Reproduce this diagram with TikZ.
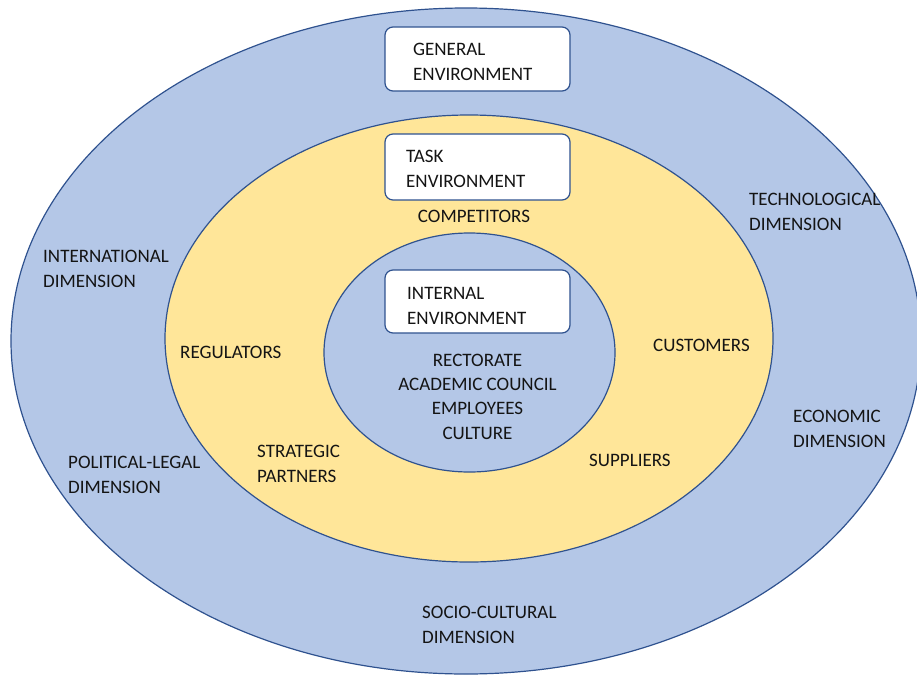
\documentclass[tikz,border=0pt]{standalone}
\usepackage{fontspec}
\setmainfont{Carlito}
\usetikzlibrary{shapes.geometric}
\definecolor{outerblue}{HTML}{B4C7E7}
\definecolor{ringyellow}{HTML}{FFE699}
\definecolor{edgeblue}{HTML}{2F528F}
\definecolor{txt}{HTML}{141414}
\begin{document}
\begin{tikzpicture}[x=1pt,y=-1pt,
  zone/.style={ellipse, draw=edgeblue, line width=1.2pt, inner sep=0pt},
  labelbox/.style={draw=edgeblue, line width=1.2pt, fill=white, rounded corners=8pt, minimum width=185pt, inner sep=0pt},
  lbl/.style={font=\fontsize{19}{24.3}\selectfont, text=txt, align=left, anchor=base west, inner sep=0pt},
  clbl/.style={lbl, align=center, anchor=base}]
\useasboundingbox (0,0) rectangle (917,677);
\node[zone, fill=outerblue, minimum width=910pt, minimum height=666pt] (outer) at (466,341) {};
\node[zone, fill=ringyellow, minimum width=608pt, minimum height=447pt] (task) at (469,338.5) {};
\node[zone, fill=outerblue, minimum width=291pt, minimum height=239pt] (inner) at (469.5,352.5) {};
\node[labelbox, minimum height=64pt] (genbox) at (477.5,59) {};
\node[labelbox, minimum height=66pt] (taskbox) at (477.5,167) {};
\node[labelbox, minimum height=63pt] (intbox) at (477.5,301.5) {};
\node[lbl] (gentxt) at (413,80) {GENERAL\\ENVIRONMENT};
\node[lbl] (tasktxt) at (406,187) {TASK\\ENVIRONMENT};
\node[lbl] (inttxt) at (407,324) {INTERNAL\\ENVIRONMENT};
\node[clbl] (internal) at (477.5,439) {RECTORATE\\ACADEMIC COUNCIL\\EMPLOYEES\\CULTURE};
\node[clbl] (competitors) at (474,222) {COMPETITORS};
\node[lbl] (regulators) at (180,358) {REGULATORS};
\node[lbl] (partners) at (257,482) {STRATEGIC\\PARTNERS};
\node[lbl] (customers) at (653,351) {CUSTOMERS};
\node[lbl] (suppliers) at (589,466) {SUPPLIERS};
\node[lbl] (intl) at (43,287) {INTERNATIONAL\\DIMENSION};
\node[lbl] (political) at (68,493) {POLITICAL-LEGAL\\DIMENSION};
\node[lbl] (tech) at (749,230) {TECHNOLOGICAL\\DIMENSION};
\node[lbl] (econ) at (793,447) {ECONOMIC\\DIMENSION};
\node[lbl] (socio) at (422,643) {SOCIO-CULTURAL\\DIMENSION};
\end{tikzpicture}
\end{document}
